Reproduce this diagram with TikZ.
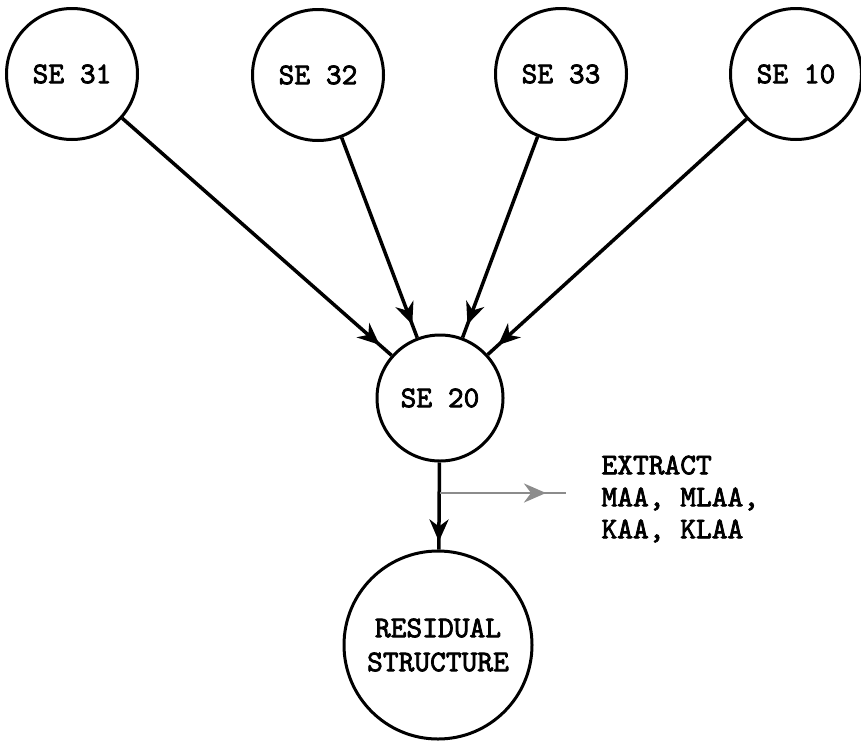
\documentclass[tikz,border=0pt]{standalone}
\usepackage{tikz}
\usetikzlibrary{arrows.meta,decorations.markings}
\font\typefont="[lmmono10-regular]:embolden=2.5" at 30pt
\tikzset{my circle/.style={draw,circle,line width=3pt,inner sep=0pt,align=center,
  font=\fontsize{30}{34}\selectfont\typefont}}
\tikzset{my tip/.tip={Stealth[length=22pt,width=19pt,inset=7pt]}}
\tikzset{my feed/.style={line width=3.5pt,postaction={decorate},
  decoration={markings,mark=at position #1 with {\arrow{my tip}}}},
  my feed/.default=-14pt}

\begin{document}
\begin{tikzpicture}[x=1pt,y=-1pt]
  \useasboundingbox (0,0) rectangle (861,742);

  \node[my circle,minimum size=131pt] (A) at (72,74) {SE 31};
  \node[my circle,minimum size=131pt] (B) at (318,75) {SE 32};
  \node[my circle,minimum size=131pt] (C) at (561,74) {SE 33};
  \node[my circle,minimum size=131pt] (D) at (796,74) {SE 10};
  \node[my circle,minimum size=126pt] (E) at (440,398) {SE 20};
  \node[my circle,minimum size=188pt] (F) at (438,645) {RESIDUAL\\STRUCTURE};

  \coordinate (G) at (440,493);
  \coordinate (H) at (566,493);
  \node[anchor=west,align=left,font=\fontsize{30}{32}\selectfont\typefont] (X) at (598,499) {EXTRACT\\MAA, MLAA,\\KAA, KLAA};

  \draw[my feed=-16pt] (A) -- (E);
  \draw[my feed] (B) -- (E);
  \draw[my feed] (C) -- (E);
  \draw[my feed] (D) -- (E);
  \draw[my feed=-8pt] (E) -- (F);
  \draw[my feed=-20pt,black!45,line width=2.8pt] (G) -- (H);

\end{tikzpicture}
\end{document}
